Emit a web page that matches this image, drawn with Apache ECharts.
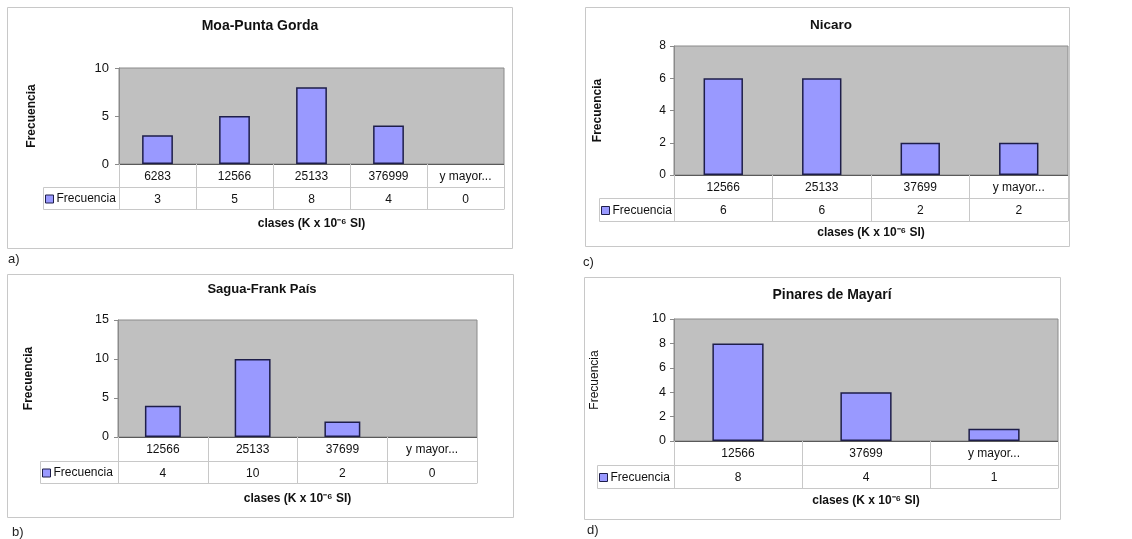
<!DOCTYPE html>
<html><head><meta charset="utf-8">
<script src="https://cdn.jsdelivr.net/npm/echarts@6/dist/echarts.min.js"></script>
<style>html,body{margin:0;padding:0;background:#fff}#c{width:1132px;height:539px}</style>
</head><body><div id="c"></div>
<script>
// ---------- data ----------
const titles = ['Moa-Punta Gorda', 'Nicaro', 'Sagua-Frank País', 'Pinares de Mayarí'];
const panelLetters = ['a)', 'c)', 'b)', 'd)'];
const moaCats = ['6283', '12566', '25133', '376999', 'y mayor...'];
const moaVals = [3, 5, 8, 4, 0];
const nicaroCats = ['12566', '25133', '37699', 'y mayor...'];
const nicaroVals = [6, 6, 2, 2];
const saguaCats = ['12566', '25133', '37699', 'y mayor...'];
const saguaVals = [4, 10, 2, 0];
const pinaresCats = ['12566', '37699', 'y mayor...'];
const pinaresVals = [8, 4, 1];
const yMax = [10, 8, 15, 10];
const yInterval = [5, 2, 5, 2];
const seriesName = 'Frecuencia';
const yName = 'Frecuencia';
const xName = 'clases (K x 10⁻⁶ SI)';

// ---------- layout (positions / sizes only) ----------
const FF = '"Liberation Sans", Arial, sans-serif';
const layout = [
  {frame:[7,7,505,241],   plot:[119,68,385,96],  r1:23, r2:22, legL:43,  titleX:260, titleY:19,  titleFs:14,   yGap:81, yMargin:10, xGap:9, tickFs:13,   yBold:true,  letter:[8,259]},
  {frame:[585,7,484,239], plot:[674,46,394,129], r1:23, r2:23, legL:599, titleX:831, titleY:18,  titleFs:13.5, yGap:70, yMargin:8,  xGap:6, tickFs:12,   yBold:true,  letter:[583,262]},
  {frame:[7,274,506,243], plot:[118,320,359,117],r1:24, r2:22, legL:40,  titleX:262, titleY:283, titleFs:13,   yGap:83, yMargin:9,  xGap:10, tickFs:12.5, yBold:true,  letter:[12,532]},
  {frame:[584,277,476,242],plot:[674,319,384,122],r1:24, r2:23, legL:597, titleX:832, titleY:288, titleFs:14,   yGap:73, yMargin:8,  xGap:7, tickFs:12.5, yBold:false, letter:[587,530]}
];

const cats = [moaCats, nicaroCats, saguaCats, pinaresCats];
const vals = [moaVals, nicaroVals, saguaVals, pinaresVals];

const grid = [], xAxis = [], yAxis = [], series = [], title = [], legend = [], graphic = [];
const txt = '#111';
const tableLine = '#c8c8c8';

layout.forEach((L, i) => {
  const [px, py, pw, ph] = L.plot;
  grid.push({left: px, top: py, width: pw, height: ph, show: true,
    backgroundColor: '#c0c0c0', borderColor: '#8a8a8a', borderWidth: 1});
  // category row (and vertical table dividers via ticks)
  xAxis.push({gridIndex: i, type: 'category', data: cats[i], position: 'bottom',
    axisLine: {show: true, lineStyle: {color: '#5a5a5a', width: 1}},
    axisTick: {show: true, interval: 0, length: L.r1 + L.r2, lineStyle: {color: tableLine}},
    axisLabel: {interval: 0, margin: 7, fontSize: 12, color: txt, fontFamily: FF},
    splitLine: {show: false}});
  // value row of the data table
  xAxis.push({gridIndex: i, type: 'category', data: vals[i].map(String), position: 'bottom', offset: L.r1,
    axisLine: {show: true, lineStyle: {color: tableLine}}, axisTick: {show: false},
    axisLabel: {interval: 0, margin: 7, fontSize: 12, color: txt, fontFamily: FF},
    splitLine: {show: false}});
  // bottom border of table + axis title
  xAxis.push({gridIndex: i, type: 'category', data: cats[i], position: 'bottom', offset: L.r1 + L.r2,
    axisLine: {show: true, lineStyle: {color: tableLine}}, axisTick: {show: false},
    axisLabel: {show: false}, splitLine: {show: false},
    name: xName, nameLocation: 'middle', nameGap: L.xGap,
    nameTextStyle: {fontSize: 12, fontWeight: 'bold', color: txt, fontFamily: FF}});
  yAxis.push({gridIndex: i, type: 'value', min: 0, max: yMax[i], interval: yInterval[i],
    axisLine: {show: true, lineStyle: {color: '#8a8a8a'}},
    axisTick: {show: true, length: 4, lineStyle: {color: '#8a8a8a'}},
    axisLabel: {fontSize: L.tickFs, color: txt, margin: L.yMargin, fontFamily: FF},
    splitLine: {show: false},
    name: yName, nameLocation: 'middle', nameRotate: 90, nameGap: L.yGap,
    nameTextStyle: {fontSize: 12, fontWeight: L.yBold ? 'bold' : 'normal', color: txt, fontFamily: FF}});
  series.push({type: 'bar', name: seriesName, xAxisIndex: 3 * i, yAxisIndex: i,
    barCategoryGap: '60%',
    data: vals[i].map(v => v === 0 ? {value: v, itemStyle: {borderWidth: 0}} : v),
    itemStyle: {color: '#9999ff', borderColor: '#1e1e4a', borderWidth: 1.5}});
  title.push({text: titles[i], left: L.titleX, top: L.titleY, textAlign: 'center', padding: 0,
    textStyle: {fontSize: L.titleFs, fontWeight: 'bold', color: txt, fontFamily: FF}});
  legend.push({data: [seriesName], left: L.legL + 2, top: py + ph + L.r1 + L.r2 / 2 - 5,
    icon: 'rect', itemWidth: 8, itemHeight: 8, padding: 0, selectedMode: false,
    itemStyle: {borderColor: '#1e1e4a', borderWidth: 1},
    textStyle: {fontSize: 12, color: txt, fontFamily: FF, padding: [0, 0, 0, -2]}});
  const [fx, fy, fw, fh] = L.frame;
  graphic.push({type: 'rect', silent: true, z: -10,
    shape: {x: fx + 0.5, y: fy + 0.5, width: fw, height: fh},
    style: {fill: 'none', stroke: '#c8c8c8', lineWidth: 1}});
  graphic.push({type: 'rect', silent: true,
    shape: {x: L.legL + 0.5, y: py + ph + L.r1 + 0.5, width: px - L.legL, height: L.r2},
    style: {fill: 'none', stroke: tableLine, lineWidth: 1}});
  graphic.push({type: 'text', silent: true, x: L.letter[0], y: L.letter[1],
    style: {text: panelLetters[i], fontSize: 13, fontFamily: FF, fill: '#222', verticalAlign: 'middle'}});
});

const chart = echarts.init(document.getElementById('c'), null, {renderer: 'canvas'});
chart.setOption({
  animation: false,
  backgroundColor: '#fff',
  textStyle: {fontFamily: FF},
  title, legend, grid, xAxis, yAxis, series, graphic
});
</script></body></html>
